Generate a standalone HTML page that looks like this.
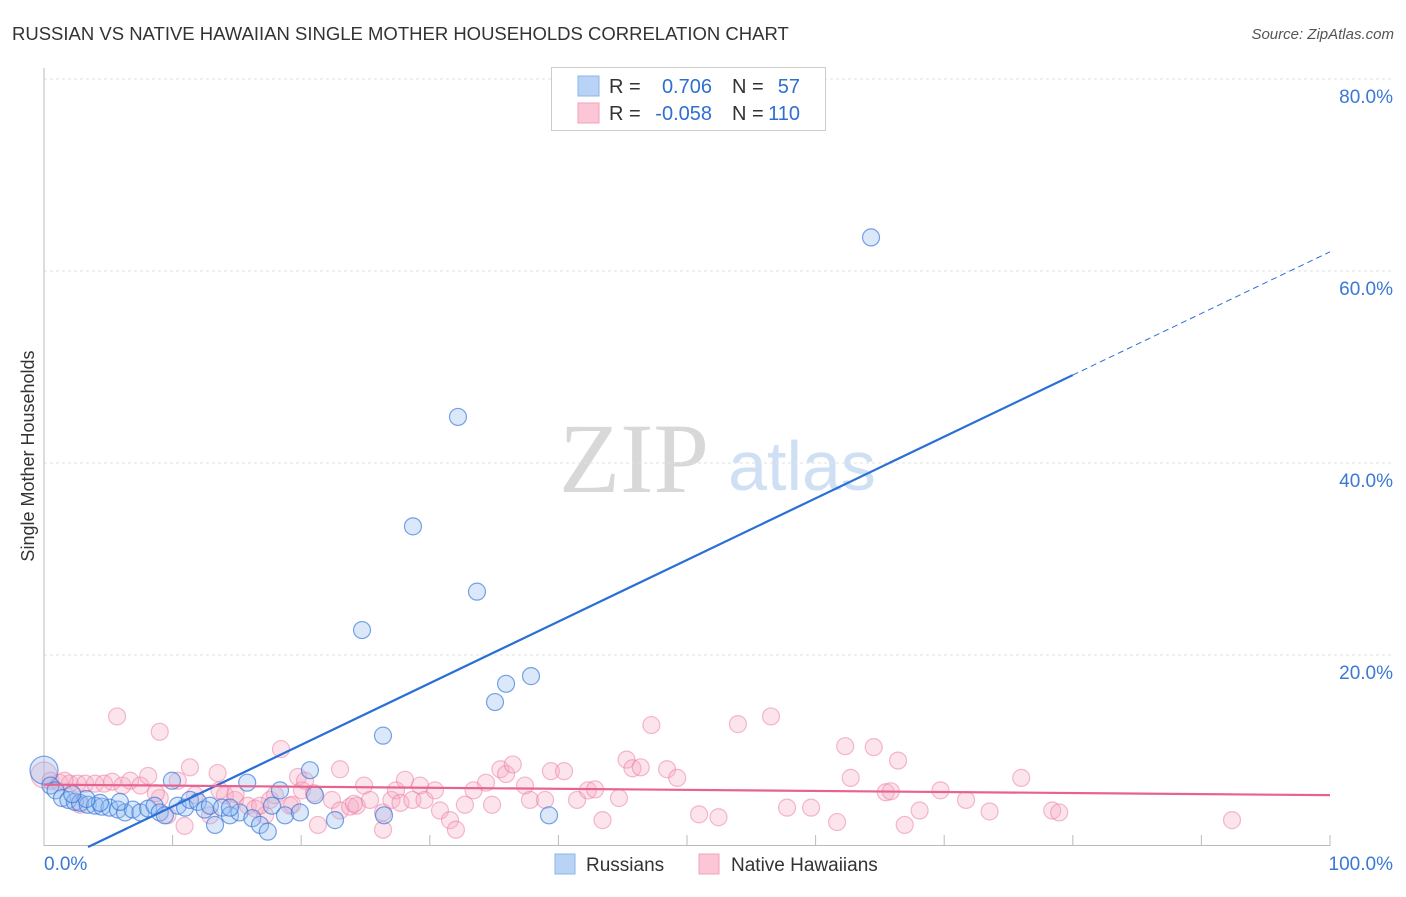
<!DOCTYPE html>
<html><head><meta charset="utf-8"><style>
body{margin:0;background:#fff;font-family:"Liberation Sans",sans-serif;}
</style></head><body>
<svg id="chart" width="1406" height="892" xmlns="http://www.w3.org/2000/svg" font-family="Liberation Sans, sans-serif">
<text x="12" y="40" font-size="18.5" fill="#333">RUSSIAN VS NATIVE HAWAIIAN SINGLE MOTHER HOUSEHOLDS CORRELATION CHART</text>
<text x="1394" y="39" font-size="15" fill="#555" font-style="italic" text-anchor="end">Source: ZipAtlas.com</text>
<text x="634" y="492" font-size="100" fill="#d8d8d8" style="font-family:'Liberation Serif',serif" text-anchor="middle">ZIP</text>
<text x="802" y="490" font-size="70" fill="#cfe0f5" text-anchor="middle">atlas</text>
<text transform="translate(34,456) rotate(-90)" font-size="18" fill="#333" text-anchor="middle">Single Mother Households</text>
<g id="grid"></g><g id="pts"></g><g id="lines"></g>
<g>
<rect x="551.5" y="67.5" width="274" height="63" fill="#fff" stroke="#ccc"/>
<rect x="578" y="76" width="21" height="20" fill="#b8d3f5" stroke="#8ab4ec"/>
<rect x="578" y="103" width="21" height="20" fill="#fbc7d6" stroke="#f3a2bb"/>
<text x="609" y="93" font-size="20" fill="#333">R =</text><text x="712" y="93" font-size="20" fill="#2f6fd0" text-anchor="end">0.706</text>
<text x="732" y="93" font-size="20" fill="#333">N =</text><text x="800" y="93" font-size="20" fill="#2f6fd0" text-anchor="end">57</text>
<text x="609" y="120" font-size="20" fill="#333">R =</text><text x="712" y="120" font-size="20" fill="#2f6fd0" text-anchor="end">-0.058</text>
<text x="732" y="120" font-size="20" fill="#333">N =</text><text x="800" y="120" font-size="20" fill="#2f6fd0" text-anchor="end">110</text>
</g>
<g>
<rect x="555" y="854" width="20" height="20" fill="#b8d3f5" stroke="#8ab4ec"/>
<text x="586" y="871" font-size="19" fill="#333">Russians</text>
<rect x="699" y="854" width="20" height="20" fill="#fbc7d6" stroke="#f3a2bb"/>
<text x="731" y="871" font-size="19" fill="#333">Native Hawaiians</text>
</g>
</svg>
<script>
const yTicks=[20,40,60,80];
const yTickLabels=["20.0%","40.0%","60.0%","80.0%"];
const xTickLabels=["0.0%","100.0%"];
const russX=[0,0.5,0.9,1.4,1.9,2.4,2.8,3.4,3.97,4.5,5.1,5.75,6.3,6.9,7.5,8.1,8.6,9,9.4,9.95,10.4,10.97,11.35,11.97,12.5,12.9,13.3,13.84,14.46,15.2,15.8,16.2,16.8,17.4,17.73,18.35,18.74,19.9,20.68,21.07,22.63,24.73,26.36,26.44,28.69,32.19,33.67,35.07,35.93,37.87,39.27,64.31,14.46,5.9,4.35,3.3,2.2];
const russY=[8,6.4,5.9,5.1,4.9,4.7,4.6,4.4,4.3,4.2,4.1,3.9,3.6,3.9,3.6,4,4.3,3.6,3.3,6.9,4.3,4.1,4.9,4.7,3.9,4.3,2.3,4.1,3.3,3.6,6.7,3,2.3,1.6,4.3,5.9,3.3,3.6,8,5.4,2.8,22.6,11.6,3.3,33.4,44.8,26.6,15.1,17,17.8,3.3,63.5,4.1,4.7,4.6,5,5.5];
const hawX=[0,0.5,1.2,2,2.6,3.2,3.97,4.67,5.3,5.68,6.1,6.7,7.5,8.1,9,9,9.6,10.4,11.35,11.74,12.91,13.5,14.07,14.85,15.85,16.41,17.19,17.58,17.96,18.43,19.13,19.75,20.06,20.3,20.99,21.3,22.39,23.02,23.02,23.8,24.32,24.89,25.35,26.36,26.36,27.02,27.37,27.72,28.07,28.65,29.24,29.59,30.4,30.79,31.57,32.03,32.73,33.4,34.37,34.84,35.49,35.93,36.45,37.4,37.79,38.96,39.42,40.44,41.45,42.3,42.85,43.43,44.71,45.3,45.76,46.4,47.23,48.45,49.24,50.94,52.45,53.96,56.53,57.78,59.65,61.67,62.3,62.73,64.52,65.46,65.85,66.41,66.93,68.09,69.71,71.7,73.53,75.99,78.4,78.94,92.38,10.93,13.65,16.8,2.8,1.6,8.7,14.9,19.3,24.1];
const hawY=[7.5,6.9,6.7,6.6,6.6,6.6,6.6,6.6,6.8,13.6,6.4,6.9,6.4,7.4,12,5.1,3.3,6.9,8.3,5.4,3.3,7.7,5.4,4.9,4.3,4,3.3,4.9,5.4,10.2,4.3,7.3,5.9,6.9,5.6,2.3,4.9,8.1,3.8,4.2,4.3,6.4,4.9,3.6,1.8,4.9,5.9,4.6,7,4.9,6.4,4.9,5.9,3.8,2.8,1.8,4.4,5.9,6.7,4.4,8.1,7.6,8.6,6.4,4.9,4.9,7.9,7.9,4.9,5.9,6,2.8,5.1,9.1,8.2,8.3,12.7,8.1,7.2,3.4,3.1,12.8,13.6,4.1,4.1,2.6,10.5,7.2,10.4,5.7,5.8,9,2.3,3.8,5.9,4.9,3.7,7.2,3.8,3.6,2.8,2.2,5.9,4.3,4.4,6.9,5.6,5.5,4.4,4.5];
const trendR=[-2.2,0.642], trendH=[6.5,-0.011];
const X=v=>44+v*12.86, Y=v=>847-v*9.6;
const NS="http://www.w3.org/2000/svg";
function mk(t,a,p){const e=document.createElementNS(NS,t);for(const k in a)e.setAttribute(k,a[k]);p.appendChild(e);return e;}
const grid=document.getElementById('grid'),pts=document.getElementById('pts'),lines=document.getElementById('lines');
yTicks.forEach((v,i)=>{
 const g=mk('line',{x1:44,x2:1394,y1:Y(v),y2:Y(v),stroke:'#e2e2e2','stroke-dasharray':'3,3'},grid);
 
 
 const t=mk('text',{x:1393,y:Y(v)+24,'font-size':19,fill:'#3a78d6','text-anchor':'end'},grid);t.textContent=yTickLabels[i];
 
 
});
const ax=mk('line',{x1:44,x2:44,y1:68,y2:846,stroke:'#bbb'},grid);


const bx=mk('line',{x1:44,x2:1330,y1:845.5,y2:845.5,stroke:'#bbb'},grid);


for(let i=1;i<=10;i++){const tk=mk('line',{x1:X(i*10),x2:X(i*10),y1:835,y2:846,stroke:'#bbb'},grid);
 
 }
xTickLabels.forEach((l,i)=>{const t=mk('text',{x:i?1393:44,y:870,'font-size':19,fill:'#3a78d6','text-anchor':i?'end':'start'},grid);t.textContent=l;
 
 });
hawX.forEach((x,i)=>{const c=mk('circle',{cx:X(x),cy:Y(hawY[i]),r:i==0?13:8.5,fill:'rgba(247,170,195,0.32)',stroke:'rgba(236,120,160,0.5)','stroke-width':1.2},pts);
 
 });
russX.forEach((x,i)=>{const c=mk('circle',{cx:X(x),cy:Y(russY[i]),r:i==0?14:8.5,fill:'rgba(150,190,240,0.35)',stroke:'rgba(50,115,215,0.65)','stroke-width':1.2},pts);
 
 });
const x0=(0-trendR[0])/trendR[1];
const l1=mk('line',{x1:X(x0),y1:Y(0),x2:X(80),y2:Y(trendR[0]+80*trendR[1]),stroke:'#2a6fd6','stroke-width':2.2},lines);


const l2=mk('line',{x1:X(80),y1:Y(trendR[0]+80*trendR[1]),x2:X(100),y2:Y(trendR[0]+100*trendR[1]),stroke:'#2a6fd6','stroke-width':1,'stroke-dasharray':'6,4'},lines);


const l3=mk('line',{x1:X(0),y1:Y(trendH[0]),x2:X(100),y2:Y(trendH[0]+100*trendH[1]),stroke:'#e8628f','stroke-width':2.2},lines);


</script>
</body></html>
